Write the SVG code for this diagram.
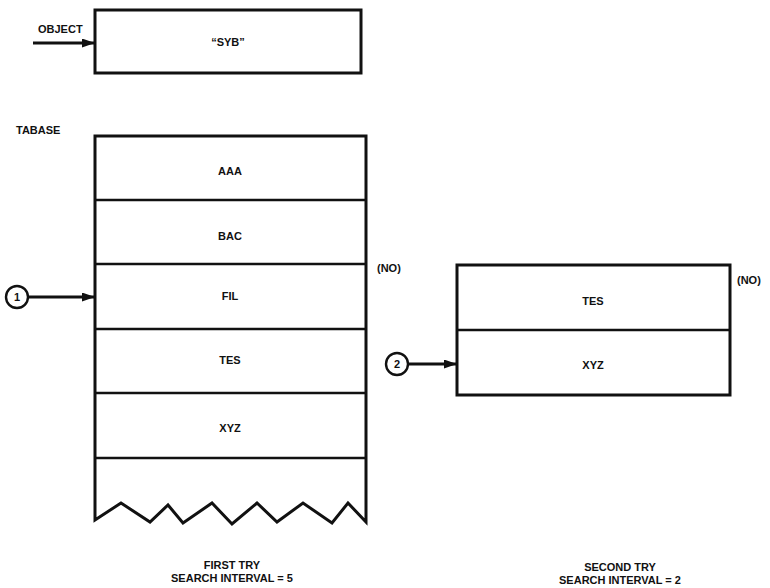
<svg xmlns="http://www.w3.org/2000/svg" width="770" height="588" viewBox="0 0 770 588">
<defs>
<marker id="ah" markerWidth="13" markerHeight="9" refX="13" refY="4.5" orient="auto" markerUnits="userSpaceOnUse" viewBox="0 0 13 9">
<path d="M0,0 L13,4.5 L0,9 z" fill="#111"/>
</marker>
</defs>
<style>
.box{fill:#fff;stroke:#111;stroke-width:3}
.div{stroke:#111;stroke-width:2.5}
.t{font-family:"Liberation Sans",Arial,sans-serif;font-weight:bold;font-size:11px;fill:#111}
.c{text-anchor:middle}
.conn{stroke:#111;stroke-width:3;fill:none}
.circ{fill:#fff;stroke:#111;stroke-width:2.4}
</style>
<rect width="770" height="588" fill="#fff"/>
<g id="object-label"><text class="t" x="38" y="33">OBJECT</text></g>
<g id="syb"><rect class="box" x="95" y="10" width="266" height="63"/><text class="t c" x="228" y="46">“SYB”</text></g>
<g id="tabase-label"><text class="t" x="16" y="134">TABASE</text></g>
<g id="table1">
<path class="box" d="M95,136 L366,136 L366,522 L348,503 L332,523 L303,503 L277,522 L257,503 L232,524 L212,503 L183,523 L168,505 L150,522 L121,503 L95,520 Z"/>
<line class="div" x1="95" y1="200" x2="366" y2="200"/>
<line class="div" x1="95" y1="264" x2="366" y2="264"/>
<line class="div" x1="95" y1="329" x2="366" y2="329"/>
<line class="div" x1="95" y1="393" x2="366" y2="393"/>
<line class="div" x1="95" y1="458" x2="366" y2="458"/>
<text class="t c" x="230" y="175">AAA</text>
<text class="t c" x="230" y="240">BAC</text>
<text class="t c" x="230" y="300">FIL</text>
<text class="t c" x="230" y="364">TES</text>
<text class="t c" x="230" y="432">XYZ</text>
</g>
<g id="no1"><text class="t" x="377" y="272">(NO)</text></g>
<g id="table2">
<rect class="box" x="457" y="265" width="273" height="130"/>
<line class="div" x1="457" y1="330" x2="730" y2="330"/>
<text class="t c" x="593" y="305">TES</text>
<text class="t c" x="593" y="369">XYZ</text>
</g>
<g id="no2"><text class="t" x="737" y="284">(NO)</text></g>
<g id="marker1"><circle class="circ" cx="17" cy="297" r="11"/><text class="t c" x="17" y="301">1</text></g>
<g id="marker2"><circle class="circ" cx="397" cy="364" r="11"/><text class="t c" x="397" y="368">2</text></g>
<g id="connectors">
<line class="conn" x1="33" y1="43" x2="95" y2="43" marker-end="url(#ah)"/>
<line class="conn" x1="28" y1="297" x2="95" y2="297" marker-end="url(#ah)"/>
<line class="conn" x1="408" y1="364" x2="457" y2="364" marker-end="url(#ah)"/>
</g>
<g id="caption1">
<text class="t c" x="232" y="569">FIRST TRY</text>
<text class="t c" x="232" y="582">SEARCH INTERVAL = 5</text>
</g>
<g id="caption2">
<text class="t c" x="620" y="571">SECOND TRY</text>
<text class="t c" x="620" y="584">SEARCH INTERVAL = 2</text>
</g>
</svg>
